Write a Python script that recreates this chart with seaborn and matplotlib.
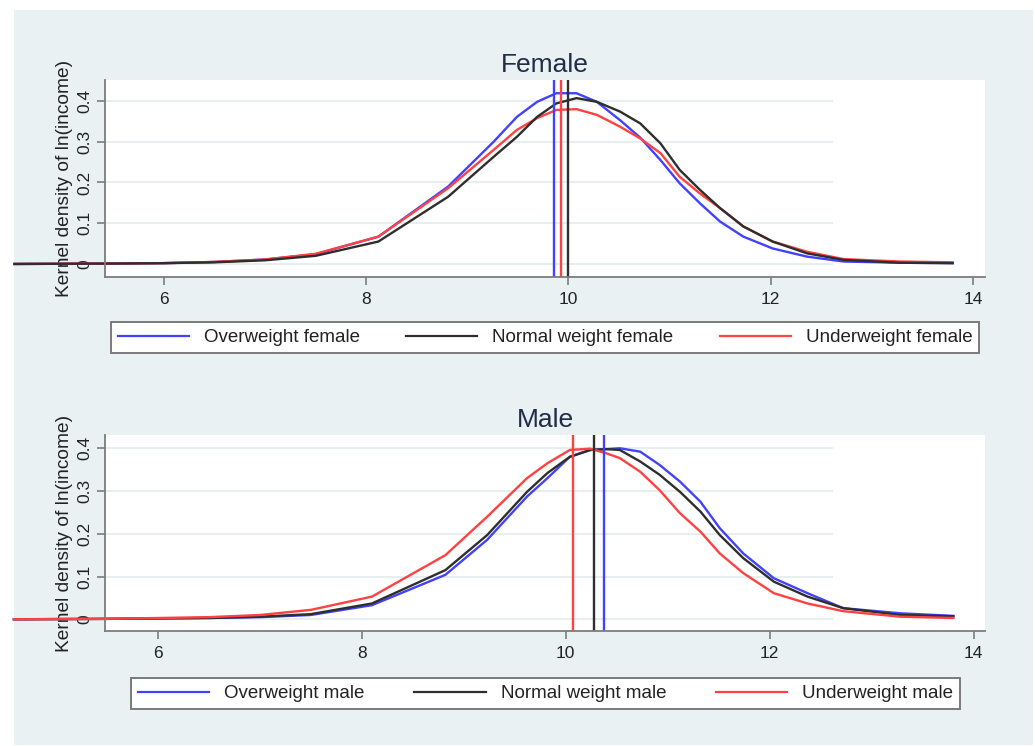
import numpy as np
import pandas as pd
import matplotlib
matplotlib.use("Agg")
import matplotlib.pyplot as plt
import seaborn as sns
from matplotlib.patches import Rectangle

plt.rcParams['font.family'] = ['Liberation Sans', 'DejaVu Sans']

# ---------------- data ----------------
female_groups = ["Overweight female", "Normal weight female", "Underweight female"]
female_x = [4.52, 5.5, 6.0, 6.5, 7.0, 7.5, 8.12, 8.81, 9.26, 9.49, 9.69, 9.88, 10.08,
            10.28, 10.51, 10.71, 10.91, 11.10, 11.30, 11.50, 11.73, 12.02, 12.36,
            12.72, 13.28, 13.8]
female_overweight = [0.0, 0.001, 0.002, 0.005, 0.011, 0.024, 0.067, 0.190, 0.300, 0.361,
                     0.398, 0.419, 0.419, 0.398, 0.353, 0.310, 0.255, 0.198, 0.149,
                     0.104, 0.067, 0.038, 0.018, 0.006, 0.003, 0.002]
female_normal = [0.0, 0.001, 0.002, 0.004, 0.009, 0.020, 0.055, 0.165, 0.263, 0.312,
                 0.361, 0.394, 0.407, 0.398, 0.374, 0.345, 0.296, 0.231, 0.182,
                 0.137, 0.092, 0.055, 0.026, 0.010, 0.003, 0.002]
female_underweight = [0.0, 0.001, 0.002, 0.005, 0.011, 0.025, 0.067, 0.186, 0.280, 0.329,
                      0.358, 0.378, 0.380, 0.366, 0.337, 0.308, 0.272, 0.214, 0.173,
                      0.137, 0.092, 0.055, 0.030, 0.012, 0.006, 0.004]
female_means = [9.855, 10.0, 9.925]

male_groups = ["Overweight male", "Normal weight male", "Underweight male"]
male_x = [4.59, 5.5, 6.0, 6.5, 7.0, 7.5, 8.10, 8.82, 9.23, 9.62, 9.82, 10.04, 10.24,
          10.40, 10.53, 10.73, 10.92, 11.12, 11.32, 11.51, 11.74, 12.04, 12.37,
          12.72, 13.28, 13.8]
male_overweight = [0.0, 0.001, 0.002, 0.003, 0.005, 0.010, 0.033, 0.104, 0.186, 0.287,
                   0.330, 0.380, 0.396, 0.398, 0.400, 0.392, 0.361, 0.322, 0.275,
                   0.213, 0.154, 0.096, 0.061, 0.026, 0.014, 0.008]
male_normal = [0.0, 0.001, 0.002, 0.003, 0.006, 0.012, 0.037, 0.115, 0.197, 0.298,
               0.342, 0.380, 0.396, 0.398, 0.396, 0.369, 0.338, 0.298, 0.252,
               0.197, 0.143, 0.088, 0.053, 0.026, 0.010, 0.007]
male_underweight = [0.0, 0.001, 0.003, 0.005, 0.010, 0.022, 0.053, 0.150, 0.240, 0.330,
                    0.365, 0.396, 0.399, 0.388, 0.377, 0.345, 0.302, 0.248, 0.205,
                    0.154, 0.108, 0.061, 0.037, 0.019, 0.006, 0.003]
male_means = [10.37, 10.28, 10.07]

x_ticks = [6, 8, 10, 12, 14]
y_ticks = [0, 0.1, 0.2, 0.3, 0.4]
y_ticklabels = ["0", "0.1", "0.2", "0.3", "0.4"]
y_label = "Kernel density of ln(income)"

# ---------------- styling ----------------
colors = ["#4141ff", "#2e2e2e", "#ff4141"]
BG = "#e9f1f3"
GRID = "#e6eef0"
SPINE = "#7c7c7c"
TXT = "#222222"
TITLE_C = "#1f2d48"
GRID_END = 12.62

W, H = 1035, 746
fig = plt.figure(figsize=(W / 100, H / 100), dpi=100, facecolor="white")
fig.patches.append(Rectangle((14 / W, 1 - 745 / H), (1033 - 14) / W, (745 - 10) / H,
                             transform=fig.transFigure, facecolor=BG,
                             edgecolor="none", zorder=-10))


def px_rect(l, t, r, b):
    return [l / W, 1 - b / H, (r - l) / W, (b - t) / H]


def panel(rect, xs, series, groups, means, title, xlim, ylim, leg_l, leg_r, leg_cy,
          zorders):
    ax = fig.add_axes(rect)
    ax.set_facecolor("white")
    df = pd.DataFrame({
        "x": np.concatenate([xs] * len(series)),
        "density": np.concatenate(series),
        "group": np.repeat(groups, len(xs)),
    })
    sns.lineplot(data=df, x="x", y="density", hue="group", hue_order=groups,
                 palette=colors, sort=False, estimator=None, lw=1.7, ax=ax)
    handles, labels = ax.get_legend_handles_labels()
    if ax.get_legend() is not None:
        ax.get_legend().remove()
    curves = [ln for ln in ax.lines if len(ln.get_xdata()) > 0]
    for ln, z in zip(curves, zorders):
        ln.set_clip_on(False)
        ln.set_zorder(z)
    for m, c in zip(means, colors):
        ax.axvline(m, color=c, lw=1.7, zorder=2.5)

    ax.hlines(y_ticks, xlim[0], GRID_END, colors=GRID, lw=1.4, zorder=0.5)
    ax.set_xlim(*xlim)
    ax.set_ylim(*ylim)
    ax.set_xticks(x_ticks)
    ax.set_xticklabels([str(t) for t in x_ticks])
    ax.set_yticks(y_ticks)
    ax.set_yticklabels(y_ticklabels, rotation=90, va="center")
    ax.tick_params(axis="both", colors=SPINE, labelcolor=TXT, labelsize=12.5,
                   length=6, width=1.2)
    ax.tick_params(axis="x", pad=5)
    ax.tick_params(axis="y", pad=3)
    for s in ["top", "right"]:
        ax.spines[s].set_visible(False)
    for s in ["left", "bottom"]:
        ax.spines[s].set_color(SPINE)
        ax.spines[s].set_linewidth(1.3)
    ax.set_xlabel("")
    ax.set_ylabel(y_label, fontsize=13.8, color=TXT)
    ax.yaxis.set_label_coords(-0.036, 0.5)
    ax.set_title(title, fontsize=19, color=TITLE_C, pad=6)

    leg = fig.legend(handles, labels, loc="center",
                     bbox_to_anchor=(leg_l / W, 1 - leg_cy / H, (leg_r - leg_l) / W, 0),
                     bbox_transform=fig.transFigure, mode="expand", ncol=3,
                     frameon=True, fancybox=False, edgecolor="#7a7a7a",
                     facecolor="white", framealpha=1, fontsize=13.5,
                     handlelength=3.8, handletextpad=0.8, borderpad=0.35,
                     borderaxespad=0)
    leg.get_frame().set_linewidth(1.4)
    for t in leg.get_texts():
        t.set_color(TXT)
    for h in leg.legend_handles:
        h.set_linewidth(1.6)
    return ax


panel(px_rect(105, 80, 985, 277), female_x,
      [female_overweight, female_normal, female_underweight],
      female_groups, female_means, "Female", (5.416, 14.12), (-0.032, 0.4515),
      111, 979, 337.5, [2.0, 2.2, 2.1])

panel(px_rect(105, 435, 985, 631), male_x,
      [male_overweight, male_normal, male_underweight],
      male_groups, male_means, "Male", (5.483, 14.11), (-0.0274, 0.431),
      131, 960, 693.5, [2.0, 2.1, 2.2])

fig.savefig("out.png", dpi=100, facecolor="white")
